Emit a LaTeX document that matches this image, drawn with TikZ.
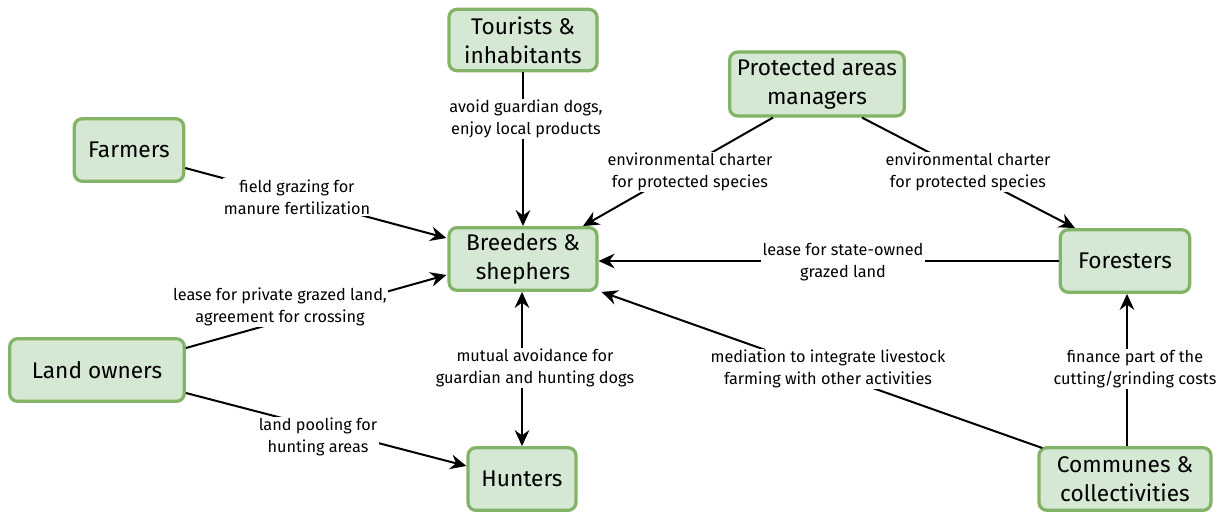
\documentclass[tikz,border=0pt]{standalone}
\usepackage{fontspec}
\setmainfont{Fira Sans}
\usetikzlibrary{arrows.meta,calc}
\definecolor{boxfill}{HTML}{D5E8D4}
\definecolor{boxline}{HTML}{82B366}
\begin{document}
\begin{tikzpicture}[x=0.75pt,y=-0.75pt,
  actor/.style={draw=boxline,fill=boxfill,line width=2.4pt,rounded corners=6pt,
    align=center,font=\fontsize{17}{21.5}\selectfont,inner sep=1pt},
  lbl/.style={fill=white,align=center,font=\fontsize{12.2}{16.5}\selectfont,inner sep=1pt},
  conn/.style={line width=1.5pt,-{Stealth[length=12pt,width=11pt,inset=4pt]}},
  dconn/.style={line width=1.5pt,{Stealth[length=12pt,width=11pt,inset=4pt]}-{Stealth[length=12pt,width=11pt,inset=4pt]}}]
\useasboundingbox[fill=white] (0,0) rectangle (1225,514);
% nodes
\node[actor,minimum width=111pt,minimum height=46pt] (tour) at (523,40) {Tourists \&\\inhabitants};
\node[actor,minimum width=131pt,minimum height=48pt] (prot) at (817,84) {Protected areas\\managers};
\node[actor,minimum width=82pt,minimum height=47pt] (farm) at (129,150) {Farmers};
\node[actor,minimum width=111pt,minimum height=47pt] (breed) at (523,259) {Breeders \&\\shephers};
\node[actor,minimum width=97pt,minimum height=47pt] (for) at (1125,261) {Foresters};
\node[actor,minimum width=131pt,minimum height=47pt] (land) at (97,370) {Land owners};
\node[actor,minimum width=81pt,minimum height=47pt] (hunt) at (522,479) {Hunters};
\node[actor,minimum width=129pt,minimum height=47pt] (comm) at (1125,479) {Communes \&\\collectivities};
% connectors
\draw[conn] (tour.south) -- (tour.south |- breed.north);
\draw[conn] ($(farm.east)+(0,18)$) -- ($(breed.west)+(-1,-21)$);
\draw[conn] ($(land.east)+(0,-22)$) -- ($(breed.west)+(-1,16)$);
\draw[conn] ($(land.east)+(0,23)$) -- ($(hunt.west)+(0,-13)$);
\draw[dconn] (breed.south -| hunt.north) -- (hunt.north);
\draw[conn] ($(prot.south)+(-44,0)$) -- ($(breed.north)+(60,0)$);
\draw[conn] ($(prot.south)+(45,0)$) -- ($(for.north)+(-50,0)$);
\draw[conn] (for.west) -- (for.west -| breed.east);
\draw[conn] ($(comm.north west)+(5,2)$) -- ($(breed.south east)+(3,0)$);
\draw[conn] ($(comm.north)+(2,0)$) -- ($(for.south)+(2,0)$);
% labels
\node[lbl] (l1) at (526,119) {avoid guardian dogs,\\enjoy local products};
\node[lbl] (l2) at (297,197) {field grazing for\\manure fertilization};
\node[lbl] (l3) at (280,307) {lease for private grazed land,\\agreement for crossing};
\node[lbl] (l4) at (318,437) {land pooling for\\hunting areas};
\node[lbl] (l5) at (535,368) {mutual avoidance for\\guardian and hunting dogs};
\node[lbl] (l6) at (690,172) {environmental charter\\for protected species};
\node[lbl] (l7) at (968,172) {environmental charter\\for protected species};
\node[lbl] (l8) at (843,262) {lease for state-owned\\grazed land};
\node[lbl] (l9) at (828,369) {mediation to integrate livestock\\farming with other activities};
\node[lbl] (l10) at (1135,369) {finance part of the\\cutting/grinding costs};
\end{tikzpicture}
\end{document}
